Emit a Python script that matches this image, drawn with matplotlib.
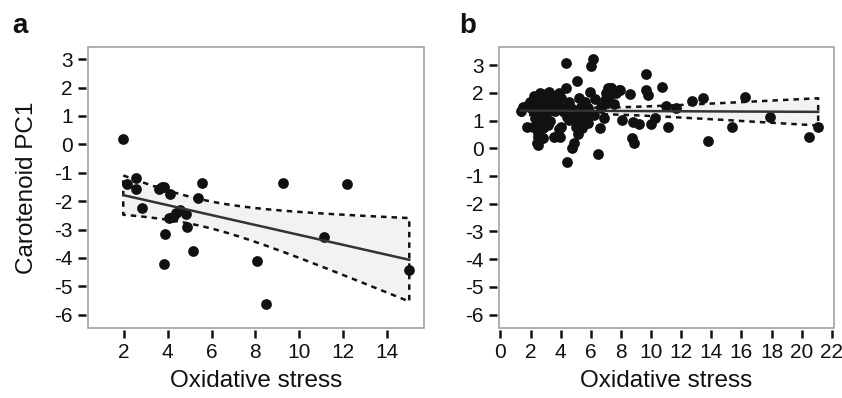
import matplotlib
matplotlib.use("Agg")
import matplotlib.pyplot as plt
import numpy as np

plt.rcParams['font.family'] = ['Liberation Sans', 'DejaVu Sans']
plt.rcParams['axes.unicode_minus'] = False

# panel a: oxidative stress vs carotenoid PC1
stress_a = [1.97, 2.12, 2.53, 2.56, 2.84, 3.61, 3.72, 3.81, 4.12, 3.86, 3.84,
            4.07, 4.22, 4.40, 4.57, 4.83, 4.88, 5.14, 5.39, 5.55, 8.06, 8.51,
            9.28, 11.13, 12.17, 15.03]
pc1_a = [0.19, -1.39, -1.19, -1.56, -2.24, -1.56, -1.52, -1.49, -1.75, -3.16,
         -4.21, -2.60, -2.55, -2.43, -2.33, -2.46, -2.91, -3.76, -1.88, -1.35,
         -4.10, -5.64, -1.37, -3.27, -1.41, -4.43]

# panel b
stress_b = [1.34, 1.49, 1.75, 1.99, 2.15, 2.37, 2.41, 2.52, 2.54, 2.63, 2.69,
            2.74, 2.80, 2.85, 2.94, 3.02, 3.13, 3.24, 3.31, 3.42, 3.53, 3.64,
            3.79, 3.90, 3.94, 4.05, 4.01, 4.23, 4.34, 4.38, 4.41, 4.45, 4.56,
            4.67, 4.78, 4.89, 4.89, 5.00, 5.11, 5.11, 5.17, 5.21, 5.32, 5.39,
            5.48, 5.61, 5.76, 5.83, 5.92, 6.03, 6.16, 6.31, 6.46, 6.60, 6.68,
            6.86, 6.92, 7.01, 7.14, 7.34, 7.54, 7.69, 7.95, 8.06, 8.61, 8.72,
            8.79, 8.85, 9.20, 9.64, 9.64, 9.82, 9.97, 10.25, 10.76, 11.02,
            11.15, 11.68, 12.73, 13.43, 13.80, 15.36, 16.21, 17.88, 20.51,
            21.10,
            2.95, 3.47, 2.15, 2.59, 3.25, 4.13, 5.88, 2.26, 3.03, 4.57, 5.33,
            2.48, 3.14, 3.91, 5.00, 2.48, 2.48, 7.32, 7.86, 6.97, 2.30, 2.90,
            3.60, 4.70, 5.50, 2.70, 3.40, 3.80, 2.00, 2.50, 4.40, 5.10, 5.80,
            6.20, 6.70, 7.20, 1.85, 2.20, 2.60, 3.00, 3.50]
pc1_b = [1.34, 1.47, 0.78, 1.68, 0.78, 1.14, 0.18, 0.54, 0.90, 1.98, 1.38,
         1.74, 0.72, 0.36, 1.62, 1.26, 1.86, 2.04, 0.98, 1.74, 0.42, 1.62,
         1.92, 1.98, 0.42, 0.78, 1.80, 1.32, 2.16, 3.06, -0.49, 1.14, 1.68,
         1.44, 0.00, 0.18, 1.38, 1.02, 2.44, 0.90, 0.50, 1.80, 1.50, 0.72,
         1.26, 1.68, 1.02, 0.90, 2.04, 2.98, 3.22, 1.77, -0.22, 0.72, 1.44,
         1.08, 1.74, 1.98, 2.16, 2.19, 1.59, 1.98, 2.10, 1.02, 1.94, 0.36,
         0.96, 0.18, 0.87, 2.68, 2.10, 1.92, 0.87, 1.08, 2.22, 1.52,
         0.75, 1.44, 1.70, 1.80, 0.26, 0.78, 1.86, 1.14, 0.42,
         0.75,
         1.74, 1.80, 1.38, 1.44, 1.40, 1.38, 1.31, 1.08, 1.08, 1.01, 1.08,
         0.75, 0.83, 0.71, 0.77, 0.41, 0.11, 2.16, 2.10, 1.62, 1.75, 1.70,
         1.35, 1.25, 1.55, 1.45, 1.65, 1.60, 1.45, 1.50, 1.50, 1.20, 1.45,
         1.20, 1.50, 1.90, 1.55, 1.90, 1.75, 1.95, 1.55]

# two-sided 95% t quantiles for the residual degrees of freedom
T95 = {24: 2.064, 133: 1.978}


def fit_band(x, y):
    x = np.asarray(x)
    y = np.asarray(y)
    n = len(x)
    b, a = np.polyfit(x, y, 1)
    resid = y - (a + b * x)
    s = np.sqrt(np.sum(resid ** 2) / (n - 2))
    t = T95.get(n - 2, 1.98)
    sxx = np.sum((x - x.mean()) ** 2)
    xs = np.linspace(x.min(), x.max(), 200)
    fit = a + b * xs
    w = t * s * np.sqrt(1.0 / n + (xs - x.mean()) ** 2 / sxx)
    return xs, fit, fit - w, fit + w


def draw_panel(ax, x, y, xlim, ylim, xticks):
    xs, fit, lo, hi = fit_band(x, y)
    ax.fill_between(xs, lo, hi, color='#f2f2f2', lw=0, zorder=1)
    ax.scatter(x, y, s=60, color='#111111', lw=0, zorder=2)
    poly_x = np.concatenate([xs, xs[::-1], xs[:1]])
    poly_y = np.concatenate([hi, lo[::-1], hi[:1]])
    ax.plot(poly_x, poly_y, color='#111111', lw=1.8, ls=(0, (2.2, 2.0)),
            zorder=3)
    ax.plot(xs, fit, color='#333333', lw=1.8, zorder=4)

    ax.set_xlim(xlim)
    ax.set_ylim(ylim)
    ax.set_xticks(xticks)
    ax.set_yticks(range(-6, 4))
    for side in ['left', 'bottom']:
        ax.spines[side].set_position(('outward', 1.5))
        ax.spines[side].set_visible(False)
    for side in ['top', 'right']:
        ax.spines[side].set_visible(False)
    ax.add_patch(plt.Rectangle((0, 0), 1, 1, transform=ax.transAxes,
                               fill=False, ec='#9a9a9a', lw=1.1,
                               clip_on=False, zorder=5))
    ax.tick_params(direction='out', length=6, width=1.8, color='#111111',
                   labelsize=15, pad=3.5, labelcolor='#111111')
    ax.set_xlabel('Oxidative stress', fontsize=17.5, color='#111111')
    ax.xaxis.set_label_coords(0.5, -0.15)


fig = plt.figure(figsize=(8.42, 3.98), dpi=100)
ax_a = fig.add_axes([0.1045, 0.1759, 0.399, 0.706])
ax_b = fig.add_axes([0.5926, 0.1759, 0.3979, 0.706])

draw_panel(ax_a, stress_a, pc1_a, (0.36, 15.7), (-6.47, 3.43),
           range(2, 15, 2))
draw_panel(ax_b, stress_b, pc1_b, (-0.1, 22.15), (-6.48, 3.65),
           range(0, 23, 2))

ax_a.set_ylabel('Carotenoid PC1', fontsize=17.5, color='#111111')
ax_a.yaxis.set_label_coords(-0.15, 0.5)

fig.text(0.014, 0.917, 'a', fontsize=20, fontweight='bold', color='#111111')
fig.text(0.546, 0.917, 'b', fontsize=20, fontweight='bold', color='#111111')

fig.savefig('out.png', dpi=100)
